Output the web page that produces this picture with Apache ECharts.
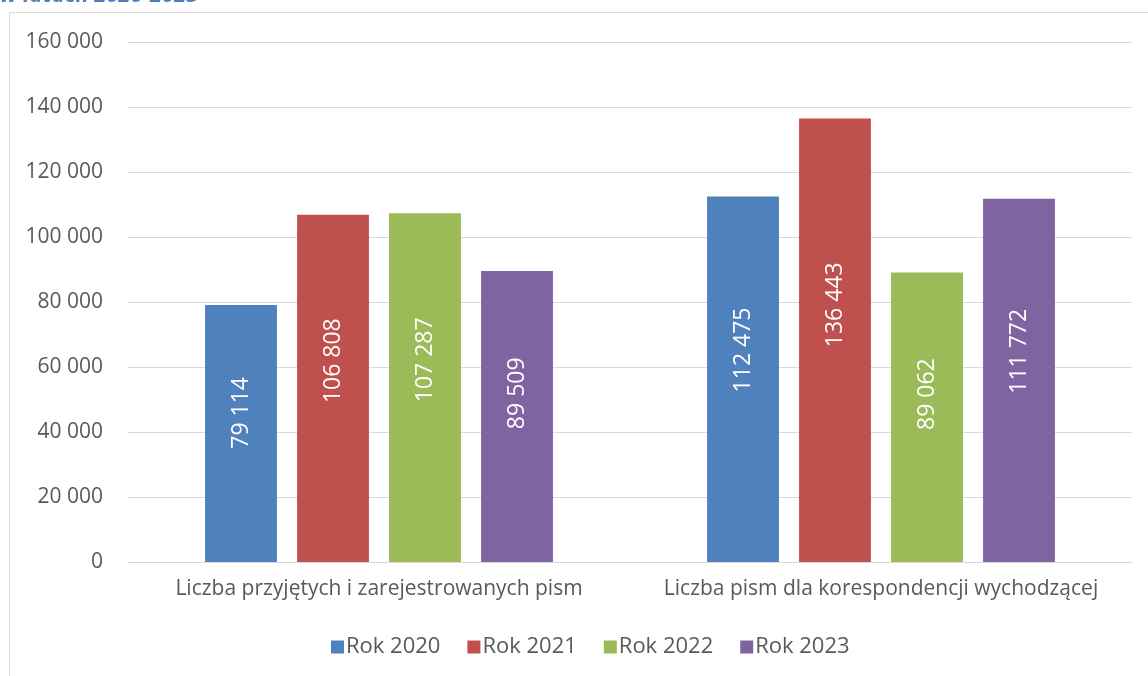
<!DOCTYPE html>
<html><head><meta charset="utf-8">
<script src="https://cdn.jsdelivr.net/npm/echarts@6/dist/echarts.min.js"></script>
<style>html,body{margin:0;padding:0;background:#fff}#c{width:1148px;height:676px}</style>
</head><body><div id="c"></div>
<script>
const categories = ['Liczba przyjętych i zarejestrowanych pism', 'Liczba pism dla korespondencji wychodzącej'];
const seriesNames = ['Rok 2020', 'Rok 2021', 'Rok 2022', 'Rok 2023'];
const rok2020 = [79114, 112475];
const rok2021 = [106808, 136443];
const rok2022 = [107287, 89062];
const rok2023 = [89509, 111772];
const colors = ['#4F81BD', '#C0504D', '#9BBB59', '#8064A2'];
const values = [rok2020, rok2021, rok2022, rok2023];
const FONT = 'Open Sans';
const fmt = v => String(v).replace(/\B(?=(\d{3})+(?!\d))/g, ' ');

const chart = echarts.init(document.getElementById('c'), null, {renderer: 'canvas'});
chart.setOption({
  animation: false,
  textStyle: {fontFamily: FONT},
  graphic: [
    {type: 'rect', shape: {x: 9.5, y: 12.5, width: 1300, height: 800}, style: {fill: 'none', stroke: '#D9D9D9', lineWidth: 1}, z: -1},
    {type: 'text', left: 0, top: -15, style: {text: 'w latach 2020-2023', fill: '#4F81BD', font: 'italic bold 22px "Open Sans"'}}
  ],
  grid: {left: 128, right: 16, top: 42, bottom: 114, containLabel: false},
  legend: {
    data: seriesNames, top: 636, left: 331, padding: 0, itemWidth: 13, itemHeight: 13, itemGap: 27,
    icon: 'rect', textStyle: {color: '#595959', fontSize: 22, fontFamily: FONT, padding: [0, 0, 0, -3]}
  },
  xAxis: {
    type: 'category', data: categories,
    axisLine: {lineStyle: {color: '#D9D9D9'}}, axisTick: {show: false},
    axisLabel: {color: '#595959', fontSize: 21, margin: 17, interval: 0, hideOverlap: false, fontFamily: FONT}
  },
  yAxis: {
    type: 'value', min: 0, max: 160000, interval: 20000,
    axisLine: {show: false}, axisTick: {show: false},
    splitLine: {lineStyle: {color: '#D9D9D9', width: 1}},
    axisLabel: {color: '#595959', fontSize: 21, margin: 25, formatter: fmt, fontFamily: FONT}
  },
  series: seriesNames.map((n, i) => ({
    name: n, type: 'bar', data: values[i], barGap: '28%', barCategoryGap: '30.7%',
    itemStyle: {color: colors[i]},
    label: {show: true, position: ['50%', '42%'], rotate: 90, align: 'center', verticalAlign: 'middle',
      color: '#fff', fontSize: 23, fontFamily: FONT, formatter: p => fmt(p.value)}
  }))
});
</script></body></html>
